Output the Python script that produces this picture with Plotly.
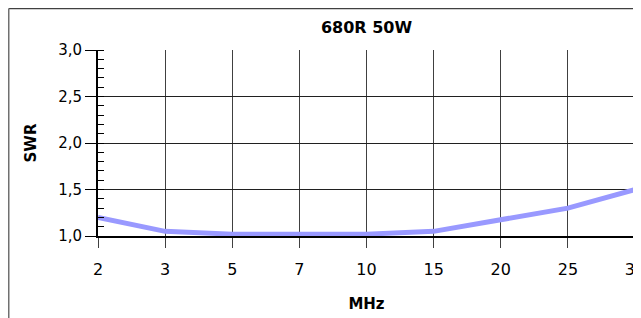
import plotly.graph_objects as go

freq_labels = ["2", "3", "5", "7", "10", "15", "20", "25", "30"]
swr_values = [1.20, 1.05, 1.02, 1.02, 1.02, 1.05, 1.18, 1.30, 1.50]

title_text = "680R 50W"
x_title = "MHz"
y_title = "SWR"

# page body has an 8px margin; figure sits at (8, 8) in the 641x318 window
W, H = 633, 310
L, R, T, B = 90, 6, 42, 82
pw, ph = W - L - R, H - T - B

font_family = "DejaVu Sans, Verdana, sans-serif"

fig = go.Figure()
fig.add_trace(go.Scatter(
    x=freq_labels, y=swr_values, mode="lines",
    line=dict(color="#9999FF", width=5),
    hoverinfo="skip", showlegend=False,
))

fig.update_layout(
    width=W, height=H,
    margin=dict(l=L, r=R, t=T, b=B, pad=0, autoexpand=False),
    paper_bgcolor="white", plot_bgcolor="white",
    separators=", ",
    font=dict(family=font_family, size=15, color="black"),
    title=dict(text="<b>" + title_text + "</b>", x=(L + pw / 2) / W, xanchor="center",
               y=1 - 19 / H, yanchor="middle", font=dict(size=16, family=font_family)),
    showlegend=False,
)

fig.update_xaxes(
    type="category", range=[0, len(freq_labels) - 1], automargin=False,
    showgrid=True, gridcolor="#404040", gridwidth=1,
    showline=True, linecolor="black", linewidth=1.5,
    ticks="outside", ticklen=10, tickcolor="#404040", tickwidth=1,
    tickfont=dict(size=16), ticklabelstandoff=8,
    title=dict(text="<b>" + x_title + "</b>", font=dict(size=15), standoff=21),
    mirror=False, zeroline=False,
)

fig.update_yaxes(
    range=[1.0, 3.0], dtick=0.5, tick0=1.0, tickformat=".1f", automargin=False,
    showgrid=True, gridcolor="#202020", gridwidth=1,
    showline=True, linecolor="black", linewidth=2,
    ticks="outside", ticklen=11, tickcolor="black", tickwidth=1,
    tickfont=dict(size=15),
    minor=dict(ticks="inside", dtick=0.1, tick0=1.0, ticklen=6, tickcolor="black", showgrid=False),
    title=dict(text="<b>" + y_title + "</b>", font=dict(size=15), standoff=18),
    zeroline=False,
)

# right border of plot
fig.add_shape(type="line", xref="paper", yref="paper", x0=1, x1=1, y0=0, y1=1,
              line=dict(color="black", width=1))
# outer frame (top and left edges)
fx = (0.75 - L) / pw
fy = 1 + (T - 0.5) / ph
fig.add_shape(type="line", xref="paper", yref="paper", x0=fx, x1=1 + (R + 5) / pw, y0=fy, y1=fy,
              line=dict(color="#404040", width=1.5))
fig.add_shape(type="line", xref="paper", yref="paper", x0=fx, x1=fx, y0=fy, y1=-(B + 5) / ph,
              line=dict(color="#707070", width=1.5))

fig.write_html("out.html")
